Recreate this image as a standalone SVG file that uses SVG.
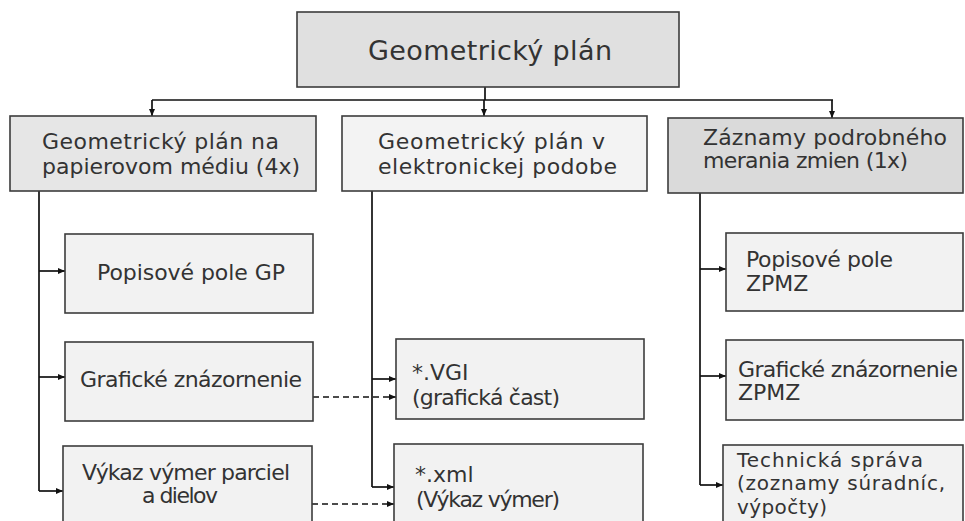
<svg xmlns="http://www.w3.org/2000/svg" width="965" height="521" viewBox="0 0 965 521">
<style>
.box{stroke:#3c3c3c;stroke-width:1.6}
.t{font-family:"DejaVu Sans","Liberation Sans",sans-serif;font-size:22px;fill:#333}
.title{font-size:27px}
.s{font-size:20px}
.c{fill:none;stroke:#111;stroke-width:1.7}
.d{fill:none;stroke:#111;stroke-width:1.7;stroke-dasharray:6 4}
</style>
<defs>
<marker id="ah" markerUnits="userSpaceOnUse" markerWidth="7" markerHeight="6" refX="7" refY="3" orient="auto">
<path d="M0,0 L7,3 L0,6 z" fill="#111"/>
</marker>
</defs>
<rect width="965" height="521" fill="#fff"/>
<g id="connectors">
<path class="c" d="M485,87 V100 M152,100 H833"/>
<path class="c" d="M152,100 V116" marker-end="url(#ah)"/>
<path class="c" d="M484,100 V116" marker-end="url(#ah)"/>
<path class="c" d="M832,100 V118" marker-end="url(#ah)"/>
<path class="c" d="M39,191 V491"/>
<path class="c" d="M39,271 H65" marker-end="url(#ah)"/>
<path class="c" d="M39,377 H65" marker-end="url(#ah)"/>
<path class="c" d="M39,491 H63" marker-end="url(#ah)"/>
<path class="c" d="M372,191 V487"/>
<path class="c" d="M372,379 H396" marker-end="url(#ah)"/>
<path class="c" d="M372,487 H394" marker-end="url(#ah)"/>
<path class="c" d="M700,193 V485"/>
<path class="c" d="M700,269 H726" marker-end="url(#ah)"/>
<path class="c" d="M700,376 H726" marker-end="url(#ah)"/>
<path class="c" d="M700,485 H723" marker-end="url(#ah)"/>
<path class="d" d="M313,397 H396" marker-end="url(#ah)"/>
<path class="d" d="M312,504 H394" marker-end="url(#ah)"/>
</g>
<g id="root">
<rect class="box" x="297" y="12" width="382" height="75" fill="#e0e0e0"/>
<text class="t title" x="368" y="60" textLength="244">Geometrický plán</text>
</g>
<g id="paper">
<rect class="box" x="10" y="116" width="306" height="75" fill="#e6e6e6"/>
<text class="t" x="42" y="149" textLength="237">Geometrický plán na</text>
<text class="t" x="42" y="174" textLength="258">papierovom médiu (4x)</text>
</g>
<g id="electronic">
<rect class="box" x="342" y="116" width="305" height="75" fill="#f3f3f3"/>
<text class="t" x="378" y="149" textLength="227">Geometrický plán v</text>
<text class="t" x="378" y="174" textLength="239">elektronickej podobe</text>
</g>
<g id="zpmz">
<rect class="box" x="668" y="118" width="295" height="75" fill="#dadada"/>
<text class="t" x="703" y="145" textLength="244">Záznamy podrobného</text>
<text class="t" x="703" y="168" textLength="205">merania zmien (1x)</text>
</g>
<g id="popis-gp">
<rect class="box" x="65" y="234" width="248" height="79" fill="#f2f2f2"/>
<text class="t" x="97" y="280" textLength="188">Popisové pole GP</text>
</g>
<g id="graficke">
<rect class="box" x="65" y="342" width="248" height="79" fill="#f2f2f2"/>
<text class="t" x="80" y="387" textLength="222">Grafické znázornenie</text>
</g>
<g id="vykaz">
<rect class="box" x="63" y="446" width="249" height="85" fill="#f2f2f2"/>
<text class="t" x="82" y="480" textLength="208">Výkaz výmer parciel</text>
<text class="t" x="142" y="503" textLength="76">a dielov</text>
</g>
<g id="vgi">
<rect class="box" x="396" y="339" width="248" height="80" fill="#f2f2f2"/>
<text class="t" x="412" y="380">*.VGI</text>
<text class="t" x="412" y="405" textLength="148">(grafická čast)</text>
</g>
<g id="xml">
<rect class="box" x="394" y="444" width="249" height="87" fill="#f2f2f2"/>
<text class="t" x="415" y="482">*.xml</text>
<text class="t" x="416" y="507" textLength="144">(Výkaz výmer)</text>
</g>
<g id="popis-zpmz">
<rect class="box" x="726" y="233" width="237" height="78" fill="#f2f2f2"/>
<text class="t" x="746" y="267" textLength="147">Popisové pole</text>
<text class="t" x="746" y="291">ZPMZ</text>
</g>
<g id="graficke-zpmz">
<rect class="box" x="726" y="340" width="237" height="80" fill="#f2f2f2"/>
<text class="t" x="738" y="377" textLength="220">Grafické znázornenie</text>
<text class="t" x="738" y="400">ZPMZ</text>
</g>
<g id="technicka">
<rect class="box" x="723" y="445" width="240" height="86" fill="#f2f2f2"/>
<text class="t s" x="737" y="467" textLength="186">Technická správa</text>
<text class="t s" x="737" y="490" textLength="208">(zoznamy súradníc,</text>
<text class="t s" x="737" y="514" textLength="90">výpočty)</text>
</g>
</svg>
